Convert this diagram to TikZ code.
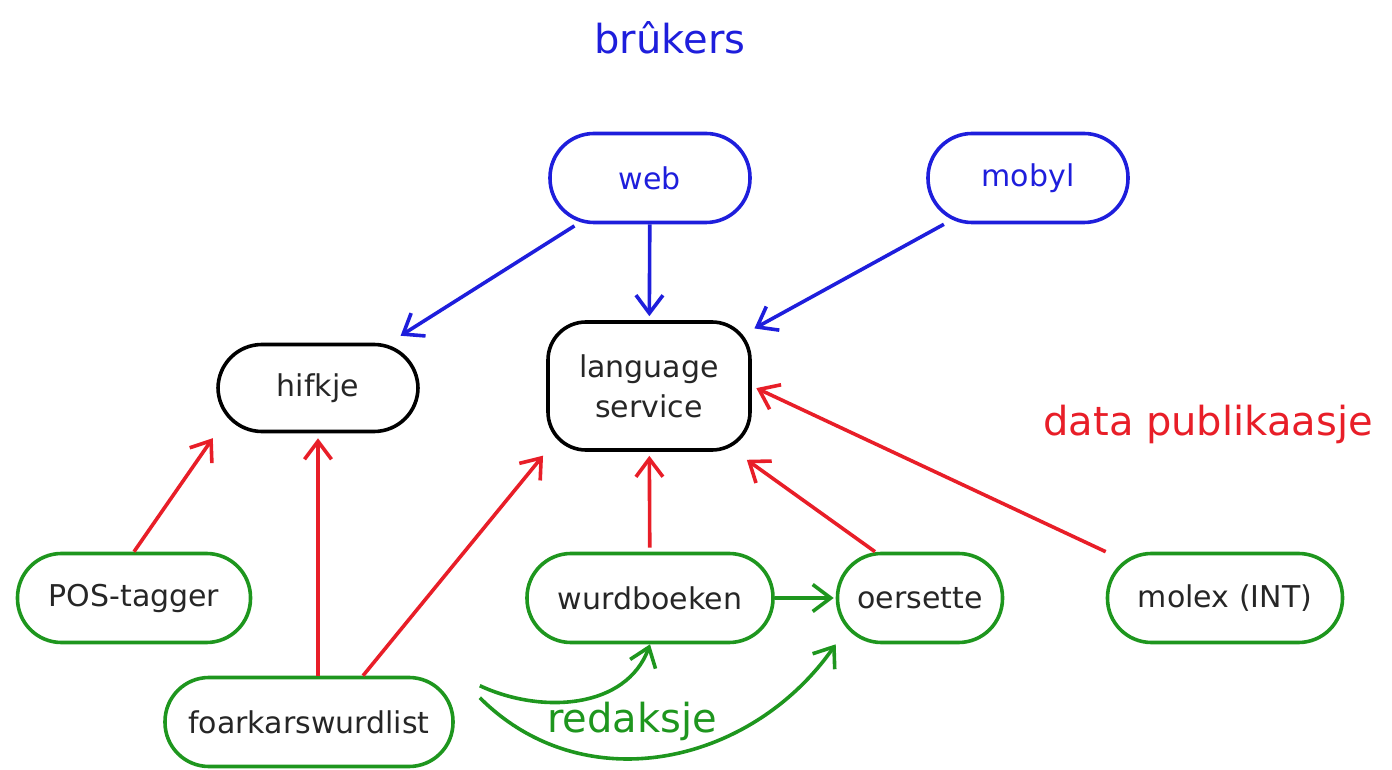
\documentclass[tikz,border=0pt]{standalone}
\usepackage{fontspec}
\setmainfont{DejaVu Sans}
\usetikzlibrary{arrows.meta}

\definecolor{userblue}{RGB}{30,30,220}
\definecolor{pubred}{RGB}{232,30,40}
\definecolor{sourcegreen}{RGB}{30,150,30}

\begin{document}
\begin{tikzpicture}[x=1pt, y=1pt, line width=3.6pt, >={Straight Barb[length=18pt, width=27pt]},
    every node/.style={font=\fontsize{30}{40}\selectfont, text=black!85}]
    \tikzstyle{box}=[rounded corners=44pt, minimum height=89pt, inner sep=0pt, draw]
    \tikzstyle{user box}=[box, draw=userblue, text=userblue]
    \tikzstyle{service box}=[box, draw=black]
    \tikzstyle{source box}=[box, draw=sourcegreen]
    \tikzstyle{heading}=[font=\fontsize{40}{48}\selectfont]

    \useasboundingbox (0,0) rectangle (1392,769);

    % Users
    \node[heading, text=userblue] (users) at (670,731) {brûkers};
    \node[user box, minimum width=200pt] (web) at (650,591) {web};
    \node[user box, minimum width=200pt] (mobyl) at (1028,591) {mobyl};

    % Services
    \node[service box, minimum width=200pt, minimum height=87pt] (hifkje) at (318,381) {hifkje};
    \node[service box, minimum width=202pt, minimum height=128pt, rounded corners=38pt, align=center] (language) at (649,383) {language\\service};

    % Sources
    \foreach \name/\x/\w/\txt in {pos/134/233/POS-tagger, wurdboeken/650/246/wurdboeken, oersette/920/165/oersette, molex/1225/235/molex (INT)}
        \node[source box, minimum width=\w pt] (\name) at (\x,171) {\txt};
    \node[source box, minimum width=288pt] (foarkars) at (309,47) {foarkarswurdlist};

    % Side labels
    \node[heading, text=pubred] (publishing) at (1208,345) {data publikaasje};
    \node[heading, text=sourcegreen] (editing) at (632,48) {redaksje};

    % Users to services
    \draw[->, userblue, shorten <=3pt, shorten >=13pt] (web) -- (hifkje);
    \draw[->, userblue, shorten >=4pt] (web) -- (language);
    \draw[->, userblue, shorten >=3pt] (mobyl) -- (language);

    % Data publishing
    \draw[->, pubred, shorten >=6pt] (pos.north) -- (hifkje.south west);
    \draw[->, pubred, shorten >=5pt] (foarkars.north -| hifkje.south) -- (hifkje.south);
    \draw[->, pubred, shorten >=5pt] ([xshift=54pt]foarkars.north) -- (language.south west);
    \draw[->, pubred, shorten <=4pt, shorten >=4pt] (wurdboeken) -- (language);
    \draw[->, pubred] ([xshift=-45pt]oersette.north) -- ([shift={(-5pt,-8pt)}]language.south east);
    \draw[->, pubred, shorten >=5pt] (molex.north west) -- (language.east);

    % Editing
    \draw[->, sourcegreen, shorten >=2pt] (wurdboeken) -- (oersette);
    \draw[->, sourcegreen] ([shift={(25pt,-10pt)}]foarkars.north east) to[out=-25, in=-110] (wurdboeken.south);
    \draw[->, sourcegreen] ([shift={(25pt,-22pt)}]foarkars.north east) to[out=-45, in=-125, looseness=1.05] (oersette.south west);
\end{tikzpicture}
\end{document}
